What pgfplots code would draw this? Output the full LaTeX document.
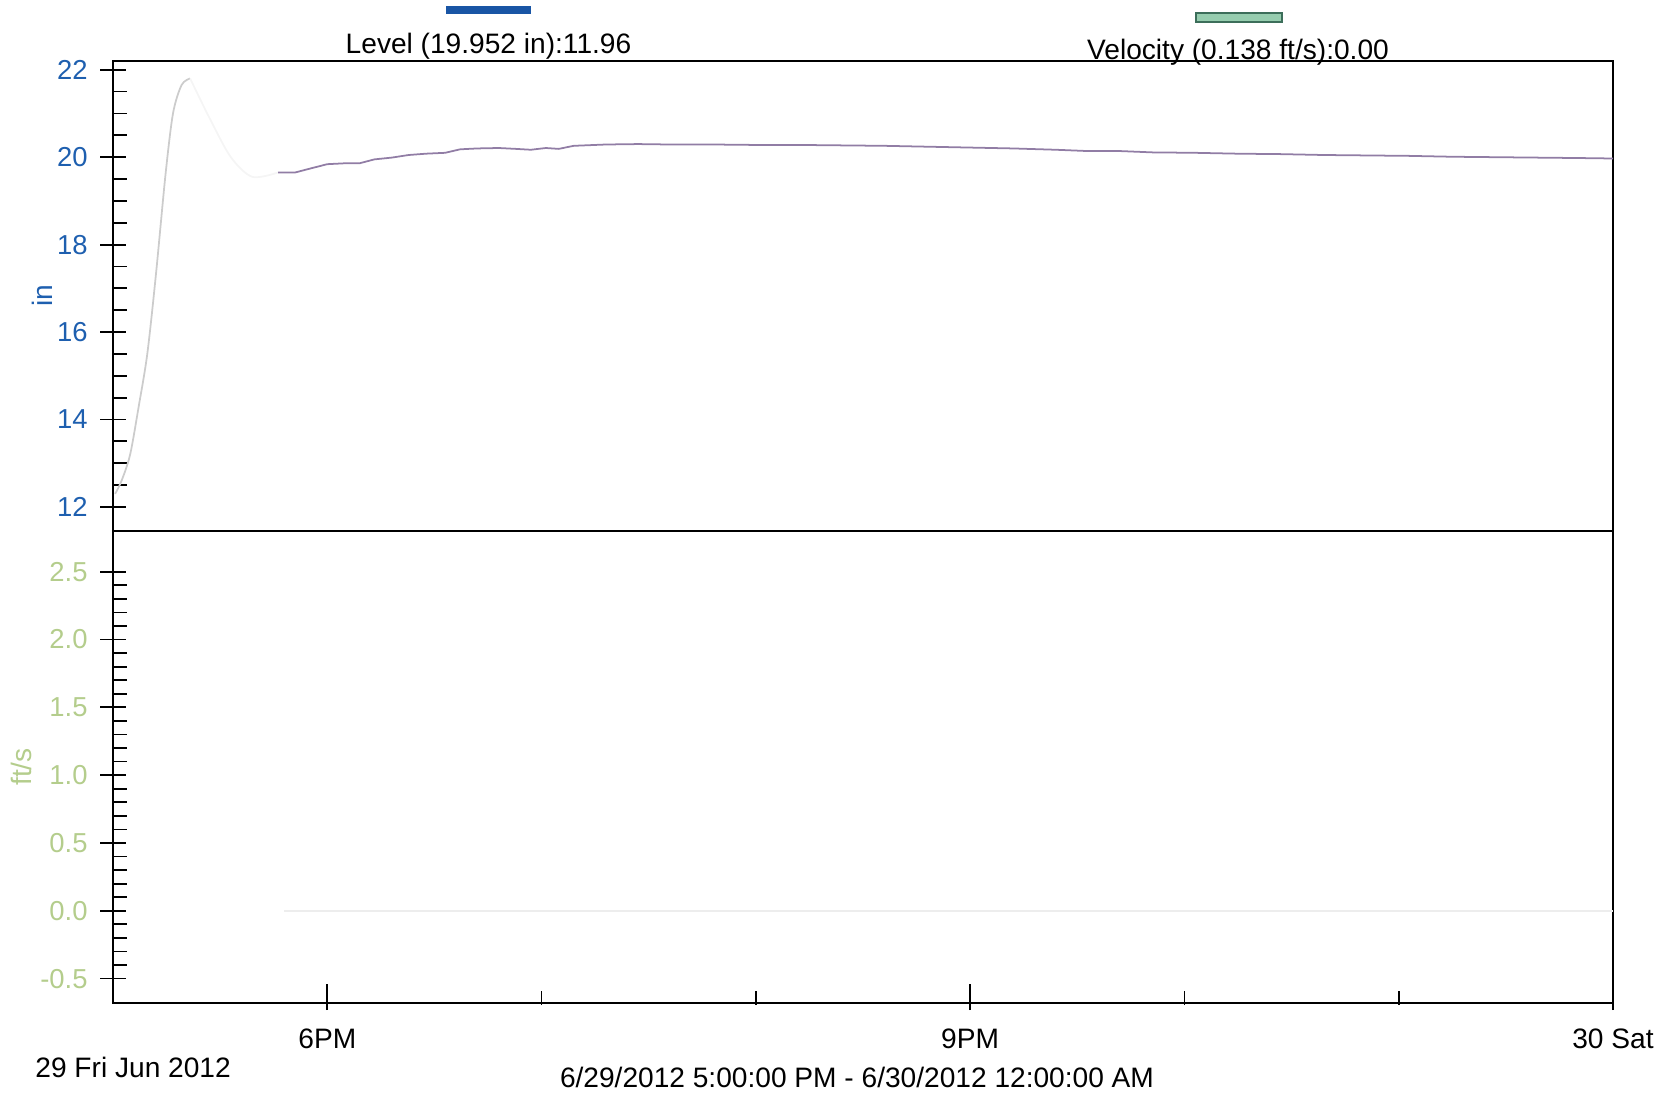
\documentclass[border=0pt]{standalone}
\usepackage{fontspec}
\setmainfont{Liberation Sans}
\usepackage{pgfplots}
\pgfplotsset{compat=1.18}

\definecolor{lvlblue}{RGB}{30,95,175}
\definecolor{barblue}{RGB}{25,85,165}
\definecolor{velgreen}{RGB}{180,205,140}
\definecolor{velfill}{RGB}{150,205,175}
\definecolor{veledge}{RGB}{60,110,90}
\definecolor{lvlline}{RGB}{145,125,165}

% level, in
\pgfplotstableread{
h lvl
17.77 19.65
17.85 19.65
17.92 19.74
18.00 19.84
18.08 19.86
18.15 19.86
18.22 19.95
18.30 19.99
18.38 20.05
18.46 20.08
18.55 20.10
18.62 20.18
18.70 20.20
18.80 20.21
18.88 20.19
18.95 20.17
19.02 20.21
19.08 20.19
19.15 20.26
19.30 20.29
19.45 20.30
19.60 20.29
19.80 20.29
20.00 20.28
20.20 20.28
20.40 20.27
20.60 20.26
20.80 20.24
21.00 20.22
21.20 20.20
21.40 20.17
21.55 20.14
21.70 20.14
21.85 20.11
22.05 20.10
22.25 20.08
22.45 20.07
22.65 20.05
22.85 20.04
23.05 20.03
23.25 20.01
23.45 20.00
23.65 19.99
23.85 19.98
24.00 19.97
}\lvlmain

\pgfplotsset{common/.style={
  scale only axis, width=15cm, xmin=17, xmax=24, clip=false,
  axis line style={line width=0.6pt},
  tick style={black, line width=0.5pt},
  tick align=center, major tick length=2.6mm, minor tick length=1.4mm,
  minor y tick style={xshift=0.7mm},
  minor x tick style={yshift=0.5mm},
  major x tick style={yshift=0.6mm},
  xtick pos=bottom, ytick pos=left,
  /pgf/number format/assume math mode=true,
  ticklabel style={font=\fontsize{7.8}{9}\selectfont},
}}

\begin{document}
\begin{tikzpicture}
\useasboundingbox (0,0) rectangle (16.65cm,10.96cm);

\begin{axis}[common, at={(1.13cm,5.65cm)}, anchor=south west, height=4.7cm,
  ymin=11.45, ymax=22.2, ytick={12,14,16,18,20,22}, minor y tick num=3,
  xtick=\empty, yticklabel style={lvlblue}]
\addplot[gray!40, line width=0.5pt, smooth] coordinates {(17.01,12.3) (17.04,12.6) (17.08,13.2) (17.12,14.3) (17.16,15.5) (17.2,17.3) (17.245,19.6) (17.28,21.0) (17.32,21.65) (17.36,21.8)};
\addplot[gray!8, line width=0.5pt, smooth] coordinates {(17.36,21.8) (17.45,20.9) (17.55,20.0) (17.65,19.55) (17.77,19.65)};
\addplot[lvlline, line width=0.5pt] table[x=h, y=lvl] {\lvlmain};
\node[rotate=90, lvlblue, font=\fontsize{8}{9}\selectfont] at (rel axis cs:-0.047,0.5) {in};
\end{axis}

\begin{axis}[common, at={(1.13cm,0.93cm)}, anchor=south west, height=4.72cm,
  ymin=-0.68, ymax=2.8, ytick={-0.5,0,0.5,1,1.5,2,2.5}, minor y tick num=4,
  xtick={18,21,24}, xticklabels={6PM,9PM,30 Sat}, minor xtick={19,20,22,23},
  yticklabel style={velgreen, /pgf/number format/.cd, fixed, fixed zerofill, precision=1},
  xticklabel style={black, font=\fontsize{8}{9}\selectfont}]
\addplot[black!7, line width=0.5pt] coordinates {(17.8,0) (18.5,0) (19.5,0) (20.5,0) (21.5,0) (22.5,0) (23.5,0) (24,0)};
\node[rotate=90, velgreen, font=\fontsize{8}{9}\selectfont] at (rel axis cs:-0.0613,0.5) {ft/s};
\end{axis}

\draw[barblue, line width=0.75mm] (4.46,10.86) -- (5.31,10.86);
\node[font=\fontsize{8}{9}\selectfont] at (4.885,10.5) {Level (19.952 in):11.96};
\draw[veledge, fill=velfill, line width=0.3pt] (11.96,10.74) rectangle (12.82,10.83);
\node[font=\fontsize{8}{9}\selectfont] at (12.38,10.44) {Velocity (0.138 ft/s):0.00};
\node[anchor=west, font=\fontsize{8}{9}\selectfont] at (0.23,0.29) {29 Fri Jun 2012};
\node[font=\fontsize{8}{9}\selectfont] at (8.57,0.19) {6/29/2012 5:00:00 PM - 6/30/2012 12:00:00 AM};
\end{tikzpicture}
\end{document}
